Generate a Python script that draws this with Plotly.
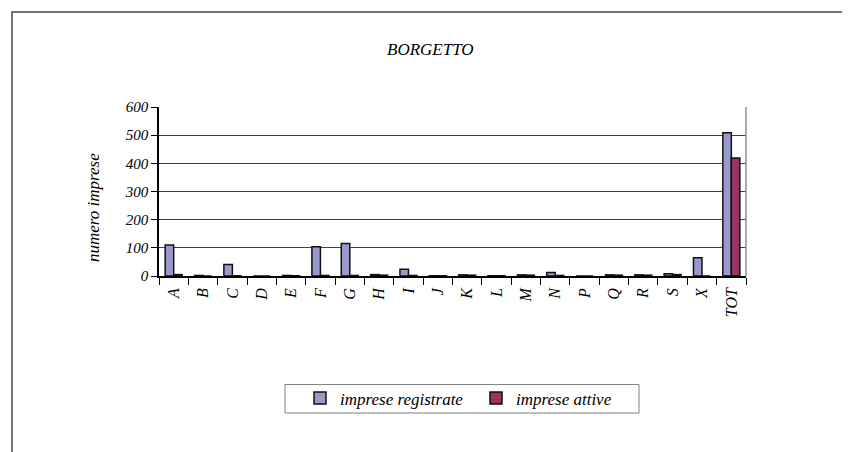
import plotly.graph_objects as go

categories = ["A", "B", "C", "D", "E", "F", "G", "H", "I", "J", "K", "L", "M", "N", "P", "Q", "R", "S", "X", "TOT"]
imprese_registrate = [110, 2, 41, 0, 2, 104, 115, 5, 24, 1, 4, 1, 4, 12, 0, 4, 4, 8, 65, 509]
imprese_attive = [5, 0, 1, 0, 1, 2, 2, 3, 2, 1, 3, 1, 3, 2, 0, 3, 3, 5, 0, 419]
y_ticks = [0, 100, 200, 300, 400, 500, 600]

SERIF = "Liberation Serif, Times New Roman, serif"

fig = go.Figure()
fig.add_trace(go.Bar(
    x=categories, y=imprese_registrate, name="imprese registrate",
    marker=dict(color="#9999cc", line=dict(color="#111111", width=1.5)),
))
fig.add_trace(go.Bar(
    x=categories, y=imprese_attive, name="imprese attive",
    marker=dict(color="#993366", line=dict(color="#111111", width=1.5)),
))

OFF = 8  # page body margin
L, R, T, B = 159 - OFF, 746 - OFF, 107 - OFF, 276 - OFF
W, H = 850, 452
pw, ph = R - L, B - T

def px(x):
    return (x - OFF - L) / pw

def py(y):
    return (B - (y - OFF)) / ph

fig.update_layout(
    width=W, height=H,
    margin=dict(l=L, r=W - R, t=T, b=H - B, pad=0),
    paper_bgcolor="white", plot_bgcolor="white",
    barmode="group", bargap=0.42, bargroupgap=0,
    font=dict(family=SERIF, color="black"),
    showlegend=True,
    legend=dict(
        orientation="h", x=px(300), xanchor="left", y=py(398.5), yanchor="middle",
        borderwidth=0, bgcolor="rgba(0,0,0,0)",
        font=dict(family=SERIF, size=17, style="italic", color="black"),
        entrywidth=131, traceorder="normal",
    ),
    xaxis=dict(
        type="category", tickangle=-90, tickson="boundaries",
        ticks="outside", ticklen=7, tickcolor="black", tickwidth=1,
        ticklabelstandoff=4,
        showline=True, linecolor="black", linewidth=1.5,
        tickfont=dict(family=SERIF, size=16, style="italic", color="black"),
        showgrid=False,
    ),
    yaxis=dict(
        range=[0, 600], tickvals=y_ticks, ticks="outside", ticklen=6,
        tickcolor="black", tickwidth=1,
        showline=True, linecolor="black", linewidth=1.5,
        showgrid=True, gridcolor="#404040", gridwidth=1,
        tickfont=dict(family=SERIF, size=15, style="italic", color="black"),
        zeroline=False,
    ),
    shapes=[
        dict(type="rect", xref="paper", yref="paper",
             x0=px(12), x1=px(900), y0=py(500), y1=py(12),
             line=dict(color="#444444", width=1.5), fillcolor="rgba(0,0,0,0)", layer="below"),
        dict(type="line", xref="paper", yref="paper",
             x0=1, x1=1, y0=0, y1=1, line=dict(color="#909090", width=1.5)),
        dict(type="rect", xref="paper", yref="paper",
             x0=px(285), x1=px(639), y0=py(413), y1=py(384.5),
             line=dict(color="#808080", width=1), fillcolor="rgba(0,0,0,0)", layer="above"),
    ],
    annotations=[
        dict(text="BORGETTO", xref="paper", yref="paper", x=px(430), y=py(49),
             xanchor="center", yanchor="middle", showarrow=False,
             font=dict(family=SERIF, size=17, style="italic", color="black")),
        dict(text="numero imprese", xref="paper", yref="paper", x=px(93), y=py(208),
             xanchor="center", yanchor="middle", showarrow=False, textangle=-90,
             font=dict(family=SERIF, size=17, style="italic", color="black")),
    ],
)

fig.write_html("out.html")
